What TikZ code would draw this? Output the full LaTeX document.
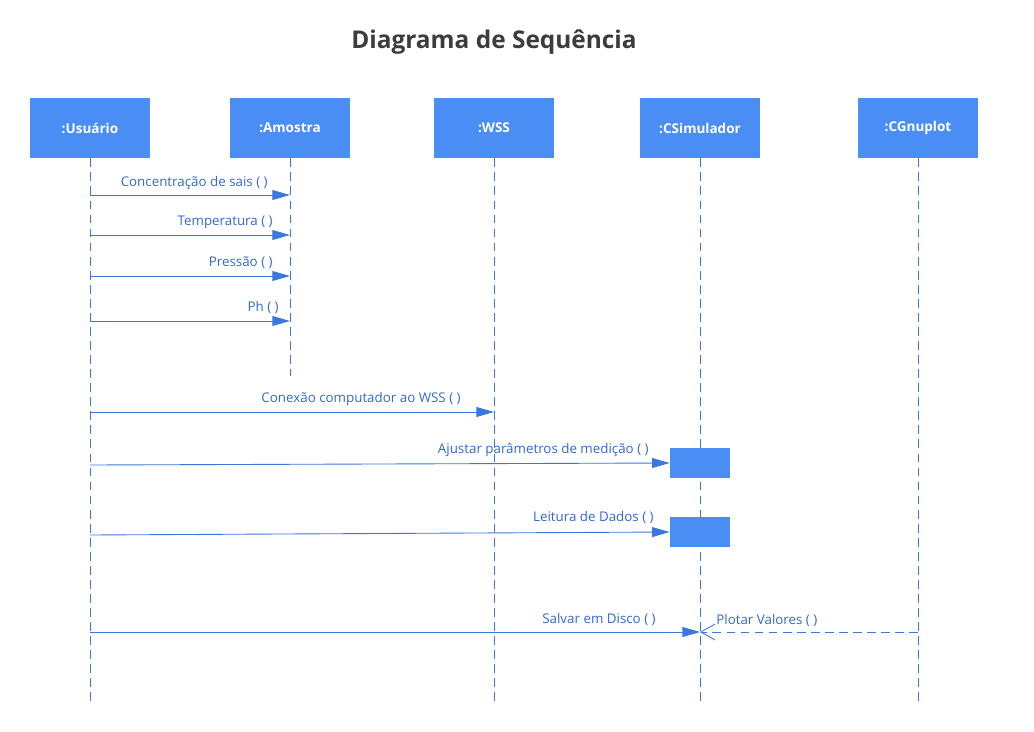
\documentclass[tikz,border=0pt]{standalone}
\usepackage{fontspec}
\setmainfont{Open Sans}
\usepackage{xcolor}
\usetikzlibrary{arrows.meta,positioning}
\definecolor{boxblue}{RGB}{74,142,245}
\definecolor{lineblue}{RGB}{58,120,222}
\definecolor{textblue}{RGB}{50,105,205}
\definecolor{titlegray}{RGB}{60,60,60}
\tikzset{
  line cap=butt,
  objbox/.style={fill=boxblue, draw=none, minimum width=120*0.02cm, minimum height=60*0.02cm,
    text=white, font=\fontsize{7.7}{9}\selectfont\bfseries},
  lifeline/.style={draw=lineblue, line width=0.5pt, dash pattern=on 5pt off 3pt},
  msg/.style={draw=lineblue, line width=0.5pt, -{Triangle[length=10pt,width=5.6pt]}},
  reply/.style={draw=lineblue, line width=0.5pt, dash pattern=on 5pt off 3pt,
    -{Straight Barb[length=8pt,width=9pt]}},
  actbox/.style={fill=boxblue, draw=none, minimum width=60*0.02cm, minimum height=30*0.02cm},
  lbl/.style={text=textblue, font=\fontsize{7.6}{9}\selectfont, inner sep=0pt}
}

\begin{document}
\begin{tikzpicture}[x=0.02cm, y=-0.02cm]
  \useasboundingbox (0,0) rectangle (1034,732);

  \node[text=titlegray, font=\fontsize{13.9}{16}\selectfont\bfseries] (title) at (494,42) {Diagrama de Sequência};

  % objects
  \node[objbox] (usr) at (90,128) {:Usuário};
  \node[objbox] (amo) at (290,128) {:Amostra};
  \node[objbox] (wss) at (494,128) {:WSS};
  \node[objbox] (sim) at (700,128) {:CSimulador};
  \node[objbox] (gnu) at (918,128) {:CGnuplot};

  % lifelines
  \coordinate (usrEnd) at (90,706);
  \coordinate (amoEnd) at (290,376);
  \coordinate (wssEnd) at (494,706);
  \coordinate (simEnd) at (700,706);
  \coordinate (gnuEnd) at (918,706);
  \draw[lifeline] (usr.south) -- (usrEnd);
  \draw[lifeline] (amo.south) -- (amoEnd);
  \draw[lifeline] (wss.south) -- (wssEnd);
  \draw[lifeline] (sim.south) -- (simEnd);
  \draw[lifeline] (gnu.south) -- (gnuEnd);

  % activations
  \node[actbox] (act1) at (700,463) {};
  \node[actbox] (act2) at (700,532) {};

  % messages
  \draw[msg] (usr |- 0,195) -- (amo |- 0,195);
  \node[lbl, anchor=base east] (m1) at (268,187) {Concentração de sais ( )};
  \draw[msg] (usr |- 0,235) -- (amo |- 0,235);
  \node[lbl, anchor=base east] (m2) at (273,226) {Temperatura ( )};
  \draw[msg] (usr |- 0,276) -- (amo |- 0,276);
  \node[lbl, anchor=base east] (m3) at (273,267) {Pressão ( )};
  \draw[msg] (usr |- 0,321) -- (amo |- 0,321);
  \node[lbl, anchor=base east] (m4) at (279,312) {Ph ( )};

  \draw[msg] (usr |- 0,412) -- (wss |- 0,412);
  \node[lbl, anchor=base east] (m5) at (461,403) {Conexão computador ao WSS ( )};

  \draw[msg] (usr |- 0,465) -- (act1.west);
  \node[lbl, anchor=base east] (m6) at (649,454) {Ajustar parâmetros de medição ( )};
  \draw[msg] (usr |- 0,535) -- (act2.west);
  \node[lbl, anchor=base east] (m7) at (654,522) {Leitura de Dados ( )};

  \draw[msg] (usr |- 0,632) -- (sim |- 0,632);
  \node[lbl, anchor=base east] (m8) at (656,623) {Salvar em Disco ( )};
  \draw[reply] (gnu |- 0,632) -- (sim |- 0,632);
  \node[lbl, anchor=base west] (m9) at (716,624) {Plotar Valores ( )};
\end{tikzpicture}
\end{document}
